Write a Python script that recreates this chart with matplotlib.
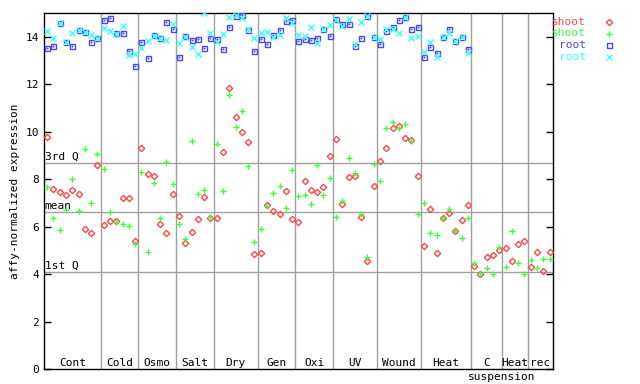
import numpy as np
import matplotlib
matplotlib.use('Agg')
from matplotlib import pyplot as plt

# groups (name, number of samples)
groups = ['Cont', 'Cold', 'Osmo', 'Salt', 'Dry', 'Gen', 'Oxi', 'UV', 'Wound', 'Heat', 'C', 'Heat', 'rec']
group_sizes = [9, 6, 6, 6, 7, 6, 6, 7, 7, 8, 5, 4, 4]

shoot_a = [9.78, 7.60, 7.46, 7.33, 7.54, 7.37, 5.90, 5.73, 8.60,
           6.07, 6.23, 6.23, 7.21, 7.21, 5.39,
           9.32, 8.22, 8.13, 6.11, 5.73, 7.37,
           6.45, 5.31, 5.77, 6.32, 7.25, 6.36,
           6.36, 9.16, 11.85, 10.62, 9.99, 9.57, 4.84,
           4.88, 6.92, 6.66, 6.53, 7.50, 6.32,
           6.19, 7.92, 7.54, 7.46, 7.67, 8.98,
           9.70, 6.95, 8.09, 8.13, 6.40, 4.55, 7.71,
           8.77, 9.32, 10.16, 10.25, 9.74, 9.65, 8.13,
           5.18, 6.74, 4.88, 6.36, 6.57, 5.81, 6.28, 6.91,
           4.34, 4.00, 4.72, 4.80, 5.01,
           5.09, 4.55, 5.26, 5.39,
           4.29, 4.93, 4.12, 4.93]

shoot_b = [7.67, 6.36, 5.85, 6.70, 8.01, 6.66, 9.27, 6.99, 9.06,
           8.43, 6.61, 6.19, 6.11, 6.02, 5.26,
           8.30, 4.94, 7.84, 6.36, 8.73, 7.80,
           6.11, 5.47, 9.61, 7.37, 7.54, 6.40,
           9.49, 7.50, 11.55, 10.20, 10.88, 8.56, 5.35,
           5.90, 6.85, 7.42, 7.72, 6.78, 8.39,
           7.29, 7.33, 6.95, 8.60, 7.33, 8.05,
           6.40, 7.08, 8.89, 8.26, 6.53, 4.72, 8.64,
           7.92, 10.16, 10.41, 10.16, 10.33, 9.61, 6.53,
           6.99, 5.73, 5.64, 6.36, 6.74, 5.81, 5.52, 6.36,
           4.46, 4.04, 4.25, 4.00, 5.14,
           4.29, 5.81, 4.46, 4.00,
           4.59, 4.25, 4.64, 4.64]

nan = np.nan
root_a = [13.54, 13.62, 14.56, 13.77, 13.62, 14.28, 14.20, 13.79, 13.94,
          14.72, 14.80, 14.17, 14.17, 13.41, 12.78,
          13.79, 13.12, 14.07, 13.96, 14.64, 14.34,
          13.16, 14.03, 13.88, 13.92, 13.54, 13.96,
          13.92, 13.50, 14.42, 14.89, 14.93, 14.30, 13.41,
          13.92, 13.71, 14.09, 14.30, 14.68, 14.72,
          13.83, 13.92, 13.88, 13.96, 14.34, 14.04,
          14.76, 14.55, 14.55, 13.62, 13.96, 14.89, 14.00,
          13.71, 14.26, 14.42, 14.72, 14.85, 14.34, 14.42,
          13.16, 13.58, 13.33, 14.00, 14.34, 13.83, 14.00, 13.50,
          nan, nan, nan, nan, nan,
          nan, nan, nan, nan,
          nan, nan, nan, nan]

root_b = [14.26, 13.96, 14.56, 13.77, 14.17, 14.28, 14.20, 14.09, 13.96,
          14.38, 14.26, 14.10, 14.47, 13.24, 13.28,
          13.54, 13.83, 14.05, 13.96, 13.88, 14.55,
          13.75, 14.00, 13.58, 13.28, 14.98, 14.17,
          13.79, 14.13, 14.85, 14.90, 14.80, 14.34,
          13.96, 14.17, 14.21, 14.00, 14.09, 14.80, 14.59,
          14.09, 14.04, 14.42, 13.75, 14.34, 14.50,
          14.72, 14.47, 14.76, 13.71, 14.64, 14.89, 14.00,
          13.92, 14.34, 14.34, 14.17, 14.85, 13.96, 14.04,
          13.37, 13.79, 13.16, 14.00, 14.17, 13.83, 14.00, 13.33,
          nan, nan, nan, nan, nan,
          nan, nan, nan, nan,
          nan, nan, nan, nan]

# reference lines
q_names = ['3rd Q', 'mean', '1st Q']
q_values = [8.68, 6.62, 4.07]

red = '#ff4848'
green = '#40ff40'
blue = '#4848f0'
cyan = '#40ffff'
grey = '#a0a0a0'

plt.rcParams['font.family'] = 'DejaVu Sans Mono'
plt.rcParams['font.size'] = 8

fig = plt.figure(figsize=(6.4, 3.84), dpi=100)
ax = fig.add_axes([44 / 640, 15 / 384, 508.7 / 640, 356 / 384])

n = sum(group_sizes)
x = np.arange(n) + 0.5
ax.set_xlim(0, n)
ax.set_ylim(0, 15)

bounds = np.cumsum(group_sizes)
for b in bounds[:-1]:
    ax.axvline(b, color=grey, lw=1, zorder=1)
for qn, qv in zip(q_names, q_values):
    ax.axhline(qv, color=grey, lw=1, zorder=1)
    ax.text(0.1, qv + 0.05, qn, ha='left', va='bottom', fontsize=8)

starts = np.concatenate([[0], bounds[:-1]])
for name, s, e in zip(groups, starts, bounds):
    ax.text((s + e) / 2, 0.25, name, ha='center', va='center', fontsize=8)
ax.text(bounds[10] - 0.2, -0.35, 'suspension', ha='center', va='center', fontsize=8)

ax.plot(x, root_a, ls='none', marker='s', ms=3.6, mfc='none', mec=blue, mew=1, zorder=3)
ax.plot(x, root_a, ls='none', marker='s', ms=0.8, mfc=blue, mec=blue, mew=0.5, zorder=3)
ax.plot(x, root_b, ls='none', marker='x', ms=3.8, mec=cyan, mew=1, zorder=3)
ax.plot(x, shoot_a, ls='none', marker='D', ms=3.2, mfc='none', mec=red, mew=1, zorder=4)
ax.plot(x, shoot_b, ls='none', marker='+', ms=5, mec=green, mew=1, zorder=4)

ax.set_xticks([])
ax.set_yticks(range(0, 15, 2))
ax.tick_params(axis='y', direction='in', right=True, length=5, width=1, labelsize=8)
for sp in ax.spines.values():
    sp.set_linewidth(1)
ax.set_ylabel('affy-normalized expression', fontsize=8, labelpad=4)

# legend, outside right
leg = [('shoot', red, 'D', 3.2), ('shoot', green, '+', 5), ('root', blue, 's', 3.6), ('root', cyan, 'x', 3.8)]
for k, (lab, c, m, ms) in enumerate(leg):
    yy = 1 - (22 + k * 11.5) / 384
    fig.text(586 / 640, yy, lab, color=c, ha='right', va='center', fontsize=8)
    fig.add_artist(plt.Line2D([609 / 640], [yy], marker=m, ms=ms, mfc='none', mec=c, mew=1,
                              ls='none', transform=fig.transFigure))

fig.savefig('out.png', dpi=100)
